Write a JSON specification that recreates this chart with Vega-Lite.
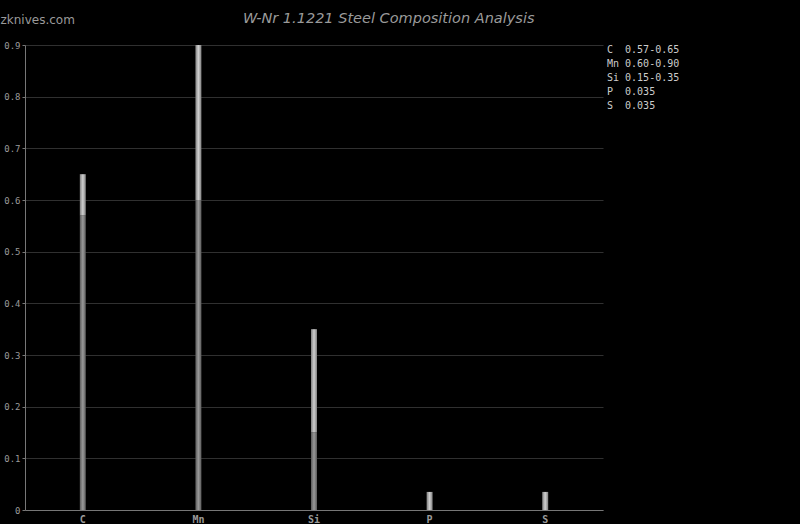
{
  "$schema": "https://vega.github.io/schema/vega-lite/v6.json",
  "autosize": "none",
  "width": 578,
  "height": 465,
  "padding": {"left": 25, "top": 45, "right": 197, "bottom": 14},
  "background": "#000000",
  "title": {
    "text": "W-Nr 1.1221 Steel Composition Analysis",
    "anchor": "start",
    "frame": "group",
    "dx": 218,
    "offset": -13,
    "font": "DejaVu Sans",
    "fontStyle": "italic",
    "fontWeight": "normal",
    "fontSize": 14.5,
    "color": "#9a9a9a"
  },
  "config": {
    "view": {"stroke": null},
    "axis": {"labelFont": "DejaVu Sans Mono", "domainColor": "#777777", "gridColor": "#303030", "labelColor": "#9a9a9a"}
  },
  "data": {
    "values": [
      {"element": "C", "min": 0.57, "max": 0.65, "label": "C\u00a0\u00a00.57-0.65"},
      {"element": "Mn", "min": 0.60, "max": 0.90, "label": "Mn\u00a00.60-0.90"},
      {"element": "Si", "min": 0.15, "max": 0.35, "label": "Si\u00a00.15-0.35"},
      {"element": "P", "min": 0, "max": 0.035, "label": "P\u00a0\u00a00.035"},
      {"element": "S", "min": 0, "max": 0.035, "label": "S\u00a0\u00a00.035"}
    ]
  },
  "encoding": {
    "x": {
      "field": "element",
      "type": "nominal",
      "sort": null,
      "scale": {"paddingInner": 0, "paddingOuter": 0},
      "axis": {"title": null, "labelAngle": 0, "ticks": false, "grid": false, "labelFontSize": 10, "labelFontWeight": "bold", "labelPadding": 4, "domainColor": "#777777"}
    }
  },
  "layer": [
    {
      "mark": {
        "type": "bar",
        "size": 6,
        "color": {"gradient": "linear", "x1": 0, "y1": 0, "x2": 1, "y2": 0,
          "stops": [{"offset": 0, "color": "#5a5a5a"}, {"offset": 0.5, "color": "#999999"}, {"offset": 1, "color": "#5a5a5a"}]}
      },
      "encoding": {
        "y": {
          "field": "min",
          "type": "quantitative",
          "scale": {"domain": [0, 0.9], "nice": false},
          "axis": {
            "title": "zknives.com",
            "titleAngle": 0,
            "titleX": -25,
            "titleY": -22,
            "titleAlign": "left",
            "titleBaseline": "alphabetic",
            "titleFont": "DejaVu Sans",
            "titleFontWeight": "normal",
            "titleFontSize": 12,
            "titleColor": "#9a9a9a",
            "values": [0, 0.1, 0.2, 0.3, 0.4, 0.5, 0.6, 0.7, 0.8, 0.9],
            "labelExpr": "datum.value == 0 ? '0' : format(datum.value, '.1f')",
            "labelFontSize": 9,
            "tickSize": 3,
            "tickColor": "#777777",
            "labelPadding": 2,
            "grid": true
          }
        },
        "y2": {"value": 465}
      }
    },
    {
      "mark": {
        "type": "bar",
        "size": 6,
        "color": {"gradient": "linear", "x1": 0, "y1": 0, "x2": 1, "y2": 0,
          "stops": [{"offset": 0, "color": "#808080"}, {"offset": 0.5, "color": "#cfcfcf"}, {"offset": 1, "color": "#808080"}]}
      },
      "encoding": {
        "y": {"field": "min", "type": "quantitative"},
        "y2": {"field": "max"},
        "stroke": {
          "field": "label",
          "type": "nominal",
          "sort": null,
          "scale": {"range": ["transparent"]},
          "legend": {
            "title": null,
            "orient": "right",
            "offset": 4,
            "symbolOpacity": 0,
            "symbolSize": 0,
            "symbolStrokeWidth": 0,
            "labelFont": "DejaVu Sans Mono",
            "labelFontWeight": "normal",
            "labelFontSize": 10,
            "labelColor": "#cccccc",
            "labelOffset": -10,
            "rowPadding": 4,
            "padding": 0
          }
        }
      }
    }
  ]
}
